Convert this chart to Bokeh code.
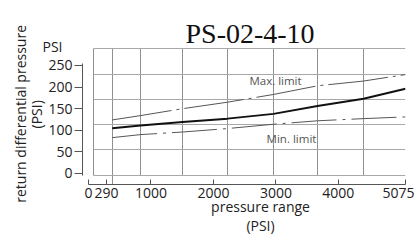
from bokeh.plotting import figure
from bokeh.models import Label, FixedTicker, Grid, Range1d, LinearAxis
from bokeh.embed import file_html
from bokeh.resources import INLINE

# ---- data (pressure range PSI vs return differential pressure PSI) ----
nominal_x = [380, 833, 1505, 2225, 2962, 3666, 4403, 5075]
nominal_y = [105, 111, 119, 127, 138, 156, 173, 196]

max_x = [380, 833, 1505, 2225, 2962, 3666, 4403, 5075]
max_y = [124, 134, 150, 165, 183, 203, 214, 229]

min_x = [380, 833, 1505, 2225, 2962, 3666, 4403, 5075]
min_y = [83, 90, 96, 104, 114, 122, 127, 131]

x_ticks = [0, 290, 1000, 2000, 3000, 4000, 5075]
y_ticks = [0, 50, 100, 150, 200, 250]
unit_tick = 294            # where the "PSI" unit sits beside the y axis

# grid of the printed chart (box edges included)
grid_x = [80, 380, 833, 1505, 2225, 2962, 3666, 4403, 5075]
grid_y = [-4.6, 56, 113, 171, 229, 289]

FONT = "Open Sans"
TXT = "#222222"

p = figure(width=414, height=240, output_backend="svg", toolbar_location=None,
           x_range=Range1d(-96, 5075), y_range=Range1d(-25.5, 296.3),
           min_border_left=82, min_border_right=9, min_border_top=45,
           min_border_bottom=56, outline_line_color=None,
           background_fill_color="white", border_fill_color="white")

# title
p.title.text = "PS-02-4-10"
p.title.align = "left"
p.title.offset = 103
p.title.standoff = -6
p.title.text_font = "Liberation Serif"
p.title.text_font_size = "28px"
p.title.text_font_style = "normal"
p.title.text_color = "#111111"

# grid
p.xgrid.visible = False
p.ygrid.visible = False
gx = Grid(dimension=0, ticker=FixedTicker(ticks=grid_x), cross_bounds=(grid_y[0], grid_y[-1]),
          grid_line_color="#909090", grid_line_width=1)
gy = Grid(dimension=1, ticker=FixedTicker(ticks=grid_y), cross_bounds=(grid_x[0], grid_x[-1]),
          grid_line_color="#a8a8a8", grid_line_width=1)
g290 = Grid(dimension=0, ticker=FixedTicker(ticks=[grid_x[1]]), cross_bounds=(-25.5, grid_y[0]),
            grid_line_color="#909090", grid_line_width=1)
p.add_layout(gx)
p.add_layout(gy)
p.add_layout(g290)

# main axes
xa = p.xaxis[0]
xa.ticker = FixedTicker(ticks=x_ticks)
xa.bounds = (0, 5075)
xa.major_tick_in = 5
xa.major_tick_out = 0
xa.minor_tick_line_color = None
xa.major_label_standoff = 3
xa.major_label_text_font = FONT
xa.major_label_text_font_size = "14px"
xa.major_label_text_color = TXT
xa.axis_line_color = "#555555"
xa.major_tick_line_color = "#555555"

ya = p.yaxis[0]
ya.ticker = FixedTicker(ticks=y_ticks)
ya.bounds = (-4.6, 255)
ya.major_tick_in = 0
ya.major_tick_out = 8
ya.minor_tick_line_color = None
ya.major_label_standoff = 2
ya.major_label_text_font = FONT
ya.major_label_text_font_size = "14px"
ya.major_label_text_color = TXT
ya.axis_line_color = "#555555"
ya.major_tick_line_color = "#555555"


def label_axis(pos, text, standoff, orientation="horizontal"):
    ax = LinearAxis(ticker=FixedTicker(ticks=[pos]), major_label_overrides={pos: text},
                    axis_line_color=None, major_tick_line_color=None,
                    minor_tick_line_color=None, major_tick_in=0, major_tick_out=0,
                    major_label_standoff=standoff, major_label_orientation=orientation,
                    major_label_text_font=FONT, major_label_text_font_size="14px",
                    major_label_text_color=TXT)
    return ax


# unit and axis titles as label-only axes (stacked outward from the main axes)
p.add_layout(label_axis(2754, "pressure range", -4), "below")
p.add_layout(label_axis(2754, "(PSI)", -3), "below")
p.add_layout(label_axis(unit_tick, "PSI", -17), "left")
p.add_layout(label_axis(137, "(PSI)", -7, "vertical"), "left")
p.add_layout(label_axis(138, "return differential pressure", -6, "vertical"), "left")

# curves
p.line(max_x, max_y, line_color="#555555", line_width=1, line_dash="60 5 3 5")
p.line(min_x, min_y, line_color="#555555", line_width=1, line_dash="45 6 3 6")
p.line(nominal_x, nominal_y, line_color="#111111", line_width=2)

# in-chart labels
p.add_layout(Label(x=2994, y=215, text="Max. limit", text_align="center", text_baseline="middle",
                   text_font=FONT, text_font_size="11.5px", text_color="#555555"))
p.add_layout(Label(x=3250, y=81, text="Min. limit", text_align="center", text_baseline="middle",
                   text_font=FONT, text_font_size="11.5px", text_color="#555555"))

open("out.html", "w").write(file_html(p, INLINE))
